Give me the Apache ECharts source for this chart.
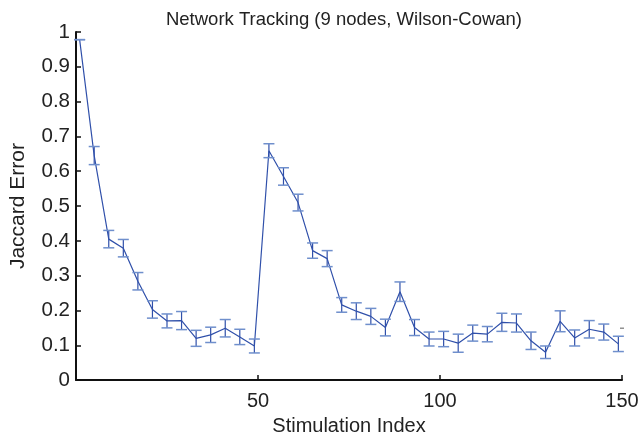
<!DOCTYPE html>
<html>
<head>
<meta charset="utf-8">
<script src="https://cdn.jsdelivr.net/npm/echarts@6/dist/echarts.min.js"></script>
<style>html,body{margin:0;padding:0;background:#fff;}#c{width:642px;height:441px;}</style>
</head>
<body>
<div id="c"></div>
<script>
var xValues = [1,5,9,13,17,21,25,29,33,37,41,45,49,53,57,61,65,69,73,77,81,85,89,93,97,101,105,109,113,117,121,125,129,133,137,141,145,149];
var meanValues = [0.978,0.645,0.405,0.379,0.284,0.203,0.170,0.171,0.120,0.130,0.149,0.124,0.098,0.659,0.585,0.510,0.372,0.349,0.216,0.198,0.183,0.151,0.254,0.151,0.118,0.118,0.106,0.135,0.132,0.166,0.164,0.113,0.080,0.169,0.121,0.146,0.138,0.104];
var errValues = [0.0,0.026,0.025,0.025,0.025,0.025,0.020,0.026,0.023,0.022,0.025,0.022,0.020,0.020,0.025,0.024,0.022,0.023,0.021,0.024,0.023,0.024,0.028,0.023,0.020,0.022,0.026,0.023,0.022,0.026,0.026,0.025,0.018,0.030,0.023,0.025,0.023,0.022];
var strayMark = [[150, 0.149]];
var xTicks = [0, 50, 100, 150];
var yTicks = [0,0.1,0.2,0.3,0.4,0.5,0.6,0.7,0.8,0.9,1];

var lineColor = '#3050aa';
var lineData = xValues.map(function(x,i){return [x, meanValues[i]];});
var errData = xValues.map(function(x,i){return [x, meanValues[i]-errValues[i], meanValues[i]+errValues[i]];});

var chart = echarts.init(document.getElementById('c'), null, {renderer:'canvas'});
var font = 'Liberation Sans, Arial, Helvetica, sans-serif';
chart.setOption({
  animation: false,
  backgroundColor: '#fff',
  title: {
    text: 'Network Tracking (9 nodes, Wilson-Cowan)',
    left: 339, top: 5, textAlign: 'center',
    textStyle: {fontFamily: font, fontSize: 18.5, fontWeight: 'normal', color: '#222'}
  },
  grid: {left: 73, right: 20, top: 32, bottom: 54, containLabel: false},
  xAxis: {
    type: 'value', min: 0, max: 150, interval: 50,
    name: 'Stimulation Index', nameLocation: 'middle', nameGap: 33,
    nameTextStyle: {fontFamily: font, fontSize: 20, color: '#222'},
    axisLine: {show: true, lineStyle: {color: '#111', width: 2}},
    axisTick: {show: true, inside: true, length: 5, lineStyle: {color: '#111', width: 1.5}},
    axisLabel: {fontFamily: font, fontSize: 20, color: '#222', margin: 11,
      formatter: function(v){ return v === 0 ? '' : String(v); }},
    splitLine: {show: false}
  },
  yAxis: {
    type: 'value', min: 0, max: 1, interval: 0.1,
    name: 'Jaccard Error', nameLocation: 'middle', nameGap: 47, nameRotate: 90,
    nameTextStyle: {fontFamily: font, fontSize: 21, color: '#222'},
    axisLine: {show: true, lineStyle: {color: '#111', width: 2}},
    axisTick: {show: true, inside: true, length: 5, lineStyle: {color: '#111', width: 1.5}},
    axisLabel: {fontFamily: font, fontSize: 20.5, color: '#222', margin: 6,
      formatter: function(v){ return String(Math.round(v*10)/10); }},
    splitLine: {show: false}
  },
  series: [
    {
      type: 'line', data: lineData, showSymbol: false, symbol: 'none',
      lineStyle: {color: lineColor, width: 1.2}, z: 3
    },
    {
      type: 'custom', data: errData, z: 4,
      renderItem: function(params, api){
        var x = api.value(0);
        var lo = api.coord([x, api.value(1)]);
        var hi = api.coord([x, api.value(2)]);
        var hw = 5.5;
        var st = {stroke: lineColor, lineWidth: 1.2};
        return {type: 'group', children: [
          {type: 'line', shape: {x1: lo[0], y1: lo[1], x2: hi[0], y2: hi[1]}, style: st},
          {type: 'line', shape: {x1: lo[0]-hw, y1: lo[1], x2: lo[0]+hw, y2: lo[1]}, style: {stroke: '#6f8fcc', lineWidth: 1.5}},
          {type: 'line', shape: {x1: hi[0]-hw, y1: hi[1], x2: hi[0]+hw, y2: hi[1]}, style: {stroke: '#6f8fcc', lineWidth: 1.5}}
        ]};
      }
    },
    {
      type: 'scatter', data: strayMark, symbol: 'rect', symbolSize: [4, 1.5],
      itemStyle: {color: '#777'}, z: 2
    }
  ]
});
</script>
</body>
</html>
